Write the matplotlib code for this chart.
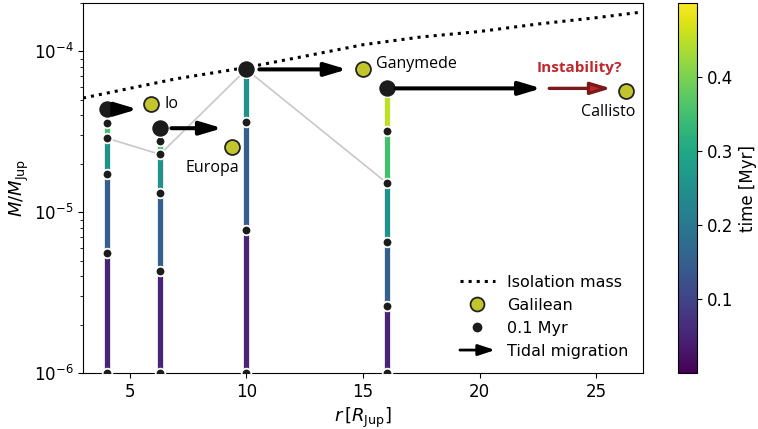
import numpy as np
import matplotlib
matplotlib.use("Agg")
import matplotlib.pyplot as plt
from matplotlib.collections import LineCollection
from matplotlib.colors import Normalize
from matplotlib.patches import FancyArrowPatch
from matplotlib.legend_handler import HandlerBase
from matplotlib.lines import Line2D

# embryo growth tracks (radius in R_Jup, time in Myr, mass in M_Jup)
emb_r = [4.05, 6.3, 10.0, 16.05]
emb_t = [
    [0.0, 0.1, 0.2, 0.3, 0.4, 0.45],
    [0.0, 0.1, 0.2, 0.3, 0.4, 0.45],
    [0.0, 0.1, 0.2, 0.3],
    [0.0, 0.1, 0.2, 0.3, 0.4, 0.5],
]
emb_m = [
    [1e-6, 5.56e-6, 1.72e-5, 2.88e-5, 3.57e-5, 4.37e-5],
    [1e-6, 4.30e-6, 1.31e-5, 2.29e-5, 2.76e-5, 3.33e-5],
    [1e-6, 7.73e-6, 3.62e-5, 7.73e-5],
    [1e-6, 2.61e-6, 6.52e-6, 1.51e-5, 3.18e-5, 5.89e-5],
]
iso_time = 0.3  # grey isochrone

# isolation mass curve
iso_r = [3, 5, 7, 10, 12.5, 15, 17.5, 20, 22.5, 25, 27]
iso_m = [5.13e-5, 5.89e-5, 6.76e-5, 7.94e-5, 9.33e-5, 1.10e-4,
         1.23e-4, 1.33e-4, 1.48e-4, 1.62e-4, 1.76e-4]

# Galilean moons
gal_names = ["Io", "Europa", "Ganymede", "Callisto"]
gal_r = [5.9, 9.4, 15.0, 26.3]
gal_m = [4.70e-5, 2.53e-5, 7.80e-5, 5.67e-5]

GAL_COLOR = "#c2c52b"
DOT_COLOR = "#1c1c1c"
RED = "#c0282d"

fig = plt.figure(figsize=(7.58, 4.29), dpi=100)
ax = fig.add_axes([0.1095, 0.1305, 0.7385, 0.8625])
cax = fig.add_axes([0.8945, 0.1305, 0.0251, 0.8625])

norm = Normalize(vmin=0.0, vmax=0.5)
cmap = plt.get_cmap("viridis")

# isolation mass
ax.plot(iso_r, iso_m, ls=":", lw=2.2, color="black", zorder=2)

# grey isochrone through the embryos
gx, gy = [], []
for r, t, m in zip(emb_r, emb_t, emb_m):
    idx = t.index(iso_time) if iso_time in t else len(t) - 1
    gx.append(r)
    gy.append(m[idx])
ax.plot(gx, gy, color="#c8c8c8", lw=1.2, zorder=1)

# coloured growth tracks + dots
for r, t, m in zip(emb_r, emb_t, emb_m):
    pts = np.array([[r, mm] for mm in m])
    segs = np.stack([pts[:-1], pts[1:]], axis=1)
    tmid = 0.5 * (np.array(t[:-1]) + np.array(t[1:]))
    lc = LineCollection(segs, cmap=cmap, norm=norm, linewidths=3.8, zorder=3)
    lc.set_array(tmid)
    ax.add_collection(lc)
    ax.scatter([r] * (len(m) - 1), m[:-1], s=48, color=DOT_COLOR,
               edgecolor="white", linewidth=1.3, zorder=4)
    ax.scatter([r], [m[-1]], s=165, color=DOT_COLOR,
               edgecolor="white", linewidth=1.0, zorder=5)

# Galilean moons
ax.scatter(gal_r, gal_m, s=115, color=GAL_COLOR, edgecolor="#222222",
           linewidth=1.3, zorder=6)

# tidal migration arrows (start, end radius)
arrow_style = "-|>,head_length=1.1,head_width=0.33"
migr = [(4.44, 5.34), (6.79, 8.97), (10.56, 14.32), (16.41, 22.65)]
for (r0, r1), m in zip(migr, emb_m):
    ax.annotate("", xy=(r1, m[-1]), xytext=(r0, m[-1]),
                arrowprops=dict(arrowstyle=arrow_style, mutation_scale=12,
                                lw=2.9, color="black",
                                shrinkA=0, shrinkB=0), zorder=5)
ax.annotate("", xy=(25.64, emb_m[3][-1]), xytext=(22.99, emb_m[3][-1]),
            arrowprops=dict(arrowstyle=arrow_style, mutation_scale=11,
                            lw=2.4, fc=RED, ec="#7a1a1a",
                            shrinkA=0, shrinkB=0), zorder=5)

# moon labels
lab_font = dict(family="Open Sans", fontsize=11.5)
ax.text(6.5, 4.69e-5, "Io", ha="left", va="center", **lab_font)
ax.text(8.55, 1.87e-5, "Europa", ha="center", va="center", **lab_font)
ax.text(15.56, 8.41e-5, "Ganymede", ha="left", va="center", **lab_font)
ax.text(25.5, 4.18e-5, "Callisto", ha="center", va="center", **lab_font)
ax.text(24.3, 7.83e-5, "Instability?", ha="center", va="center",
        color=RED, fontweight="bold", family="Open Sans", fontsize=11)

ax.set_yscale("log")
ax.set_xlim(3, 27)
ax.set_ylim(1e-6, 2e-4)
ax.set_xticks([5, 10, 15, 20, 25])
ax.tick_params(labelsize=12)
ax.set_xlabel(r"$r\,[R_{\rm Jup}]$", fontsize=13)
ax.set_ylabel(r"$M/M_{\rm Jup}$", fontsize=13, labelpad=2)


# legend with an arrow handle
class HandlerArrow(HandlerBase):
    def create_artists(self, legend, orig_handle, xdescent, ydescent,
                       width, height, fontsize, trans):
        y = height / 2 - ydescent
        a = FancyArrowPatch((-xdescent, y), (width - xdescent, y),
                            arrowstyle="-|>,head_length=1.0,head_width=0.33",
                            mutation_scale=10, lw=2.0, color="black",
                            shrinkA=0, shrinkB=0, transform=trans)
        return [a]


arrow_proxy = FancyArrowPatch((0, 0), (1, 0))
handles = [
    Line2D([], [], ls=":", lw=2.2, color="black"),
    Line2D([], [], ls="none", marker="o", ms=10, mfc=GAL_COLOR,
           mec="#222222", mew=1.3),
    Line2D([], [], ls="none", marker="o", ms=6, mfc=DOT_COLOR, mec=DOT_COLOR),
    arrow_proxy,
]
labels = ["Isolation mass", "Galilean", "0.1 Myr", "Tidal migration"]
ax.legend(handles, labels, loc="lower right", frameon=False, fontsize=11.5,
          handlelength=2.2, handletextpad=0.75,
          handler_map={arrow_proxy: HandlerArrow()})

sm = plt.cm.ScalarMappable(norm=norm, cmap=cmap)
cb = fig.colorbar(sm, cax=cax)
cb.set_ticks([0.1, 0.2, 0.3, 0.4])
cb.ax.tick_params(labelsize=12)
cb.set_label("time [Myr]", fontsize=12)

fig.savefig("out.png", dpi=100)
